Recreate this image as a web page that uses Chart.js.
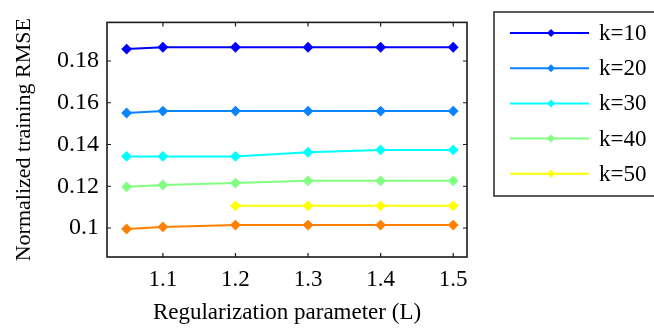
<!DOCTYPE html>
<html>
<head>
<meta charset="utf-8">
<script src="https://cdn.jsdelivr.net/npm/chart.js@4"></script>
<style>
  html, body { margin: 0; padding: 0; background: #fff; }
  #wrap { width: 654px; height: 328px; }
</style>
</head>
<body>
<div id="wrap"><canvas id="myChart" width="654" height="328"></canvas></div>
<script>
const xValues = [1.05, 1.1, 1.2, 1.3, 1.4, 1.5];
const k10 = [0.1857, 0.1866, 0.1866, 0.1866, 0.1866, 0.1866];
const k20 = [0.1551, 0.1560, 0.1560, 0.1560, 0.1560, 0.1560];
const k30 = [0.1343, 0.1343, 0.1343, 0.1363, 0.1374, 0.1374];
const k40 = [0.1197, 0.1206, 0.1215, 0.1226, 0.1226, 0.1226];
const k50 = [null, null, 0.1106, 0.1106, 0.1106, 0.1106];
const k60 = [0.0995, 0.1005, 0.1014, 0.1014, 0.1014, 0.1014];

const xTicks = [1.1, 1.2, 1.3, 1.4, 1.5];
const yTicks = [0.1, 0.12, 0.14, 0.16, 0.18];
const yTickLabels = ["0.1", "0.12", "0.14", "0.16", "0.18"];

const seriesLabels = ["k=10", "k=20", "k=30", "k=40", "k=50", "k=60"];
const seriesData = [k10, k20, k30, k40, k50, k60];
const seriesColors = ["#0000ff", "#0a84ff", "#00ffff", "#80ff80", "#ffff00", "#ff8000"];
const legendCount = 5; // orange line has no legend entry in the original

const FONT = "'Liberation Serif', 'Times New Roman', serif";

// frame + inward ticks like matlab
const boxPlugin = {
	id: 'box',
	afterDatasetsDraw(chart) {
		const { ctx, chartArea: a, scales } = chart;
		ctx.save();
		ctx.strokeStyle = "#1a1a1a";
		ctx.lineWidth = 1.6;
		ctx.strokeRect(a.left, a.top, a.right - a.left, a.bottom - a.top);
		ctx.lineWidth = 1.2;
		ctx.beginPath();
		xTicks.forEach(v => {
			const px = scales.x.getPixelForValue(v);
			ctx.moveTo(px, a.bottom); ctx.lineTo(px, a.bottom - 4);
			ctx.moveTo(px, a.top); ctx.lineTo(px, a.top + 4);
		});
		yTicks.forEach(v => {
			const py = scales.y.getPixelForValue(v);
			ctx.moveTo(a.left, py); ctx.lineTo(a.left + 4, py);
			ctx.moveTo(a.right, py); ctx.lineTo(a.right - 4, py);
		});
		ctx.stroke();
		ctx.restore();
	}
};

const legendPlugin = {
	id: 'boxLegend',
	afterDraw(chart) {
		const { ctx } = chart;
		ctx.save();
		ctx.strokeStyle = "#333";
		ctx.lineWidth = 1.6;
		ctx.strokeRect(494, 12, 170, 184);
		ctx.font = "23px " + FONT;
		ctx.textBaseline = "middle";
		ctx.fillStyle = "#000";
		for (let i = 0; i < legendCount; i++) {
			const ds = chart.data.datasets[i];
			const y = 33 + i * 35.2;
			ctx.strokeStyle = ds.borderColor;
			ctx.lineWidth = 2;
			ctx.beginPath();
			ctx.moveTo(510, y); ctx.lineTo(589, y);
			ctx.stroke();
			ctx.fillStyle = ds.borderColor;
			ctx.beginPath();
			ctx.moveTo(551, y - 4); ctx.lineTo(555, y); ctx.lineTo(551, y + 4); ctx.lineTo(547, y);
			ctx.closePath();
			ctx.fill();
			ctx.fillStyle = "#000";
			ctx.fillText(ds.label, 599, y + 1);
		}
		ctx.restore();
	}
};

const ctx = document.getElementById('myChart');

new Chart(ctx, {
	type: 'line',
	data: {
		datasets: seriesData.map((arr, i) => ({
			label: seriesLabels[i],
			data: xValues.map((x, j) => ({ x: x, y: arr[j] })),
			borderColor: seriesColors[i],
			backgroundColor: seriesColors[i],
			borderWidth: 2,
			pointStyle: 'rectRot',
			radius: 4,
			hoverRadius: 4,
			spanGaps: false
		}))
	},
	options: {
		responsive: false,
		animation: false,
		layout: { padding: { left: 0, right: 187, top: 13, bottom: 0 } },
		plugins: {
			legend: { display: false },
			tooltip: { enabled: false }
		},
		scales: {
			x: {
				type: 'linear',
				min: 1.023,
				max: 1.519,
				afterBuildTicks: (s) => { s.ticks = xTicks.map(v => ({ value: v })); },
				afterFit: (s) => { s.height = 71; },
				grid: { display: false, drawTicks: false },
				border: { display: false },
				ticks: {
					color: "#000",
					padding: 9,
					font: { family: FONT, size: 23 },
					callback: (v) => String(v)
				},
				title: {
					display: true,
					text: "Regularization parameter (L)",
					color: "#000",
					font: { family: FONT, size: 23 },
					padding: { top: 0, bottom: 1 }
				}
			},
			y: {
				min: 0.0861,
				max: 0.1985,
				afterBuildTicks: (s) => { s.ticks = yTicks.map(v => ({ value: v })); },
				afterFit: (s) => { s.width = 107; },
				grid: { display: false, drawTicks: false },
				border: { display: false },
				ticks: {
					color: "#000",
					padding: 8,
					font: { family: FONT, size: 24 },
					callback: (v) => yTickLabels[yTicks.findIndex(t => Math.abs(t - v) < 1e-9)]
				},
				title: {
					display: true,
					text: "Normalized training RMSE",
					color: "#000",
					font: { family: FONT, size: 22 },
					padding: { top: 11, bottom: 0 }
				}
			}
		}
	},
	plugins: [boxPlugin, legendPlugin]
});
</script>
</body>
</html>
